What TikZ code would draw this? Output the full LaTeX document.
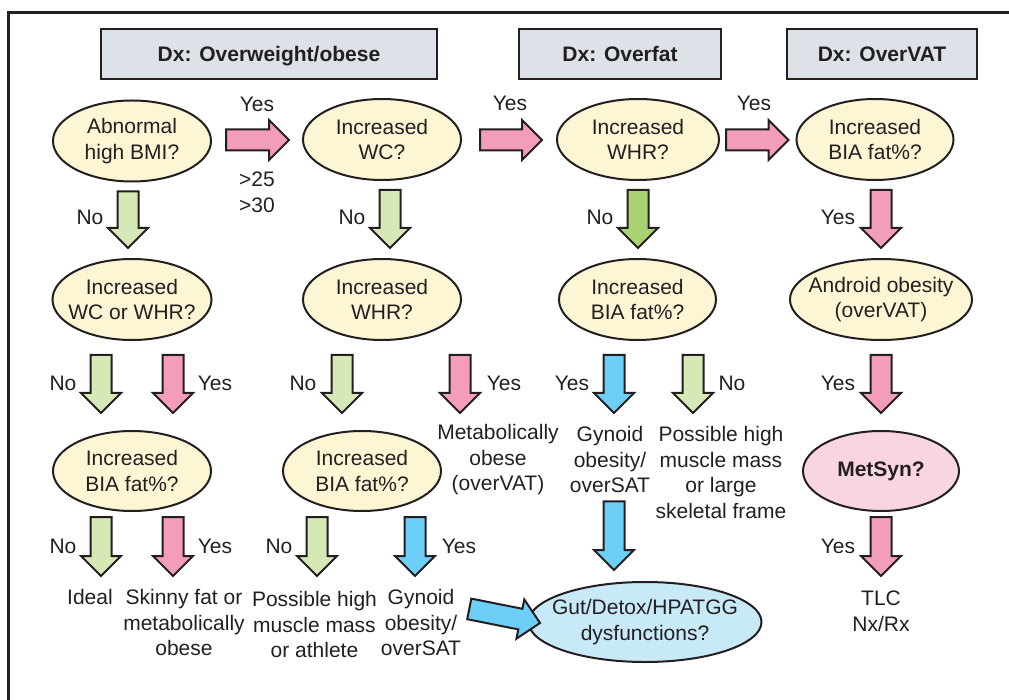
\documentclass[tikz,border=0pt]{standalone}
\usepackage{fontspec}
\setmainfont{Liberation Sans}
\usetikzlibrary{shapes.geometric,shapes.arrows,calc}
\definecolor{ink}{HTML}{231F20}
\definecolor{yel}{HTML}{FDF6D5}
\definecolor{hdrfill}{HTML}{DDE1E8}
\definecolor{lgreen}{HTML}{D5E8B6}
\definecolor{dgreen}{HTML}{AAD272}
\definecolor{pinkA}{HTML}{F49CBB}
\definecolor{blueA}{HTML}{6DCFF6}
\definecolor{pinkE}{HTML}{F9D4E1}
\definecolor{blueE}{HTML}{C7E9F8}
\newcommand{\dxfont}{\fontsize{21}{25.5}\selectfont}
\tikzset{
    every node/.style={text=ink,font=\dxfont},
    qbox/.style={ellipse,draw=ink,line width=2pt,fill=yel,inner xsep=-40pt,inner ysep=-10pt,
                 outer sep=0pt,minimum height=81,align=center},
    hdr/.style={rectangle,draw=ink,line width=2pt,fill=hdrfill,minimum height=50,
                inner sep=0pt,text height=16pt,text depth=0pt,font=\dxfont\bfseries},
    lbl/.style={anchor=base,inner sep=0pt},
    txt/.style={anchor=north,align=center,inner sep=0pt},
    bigarrow/.style={single arrow,draw=ink,line width=2pt,inner xsep=0pt,inner ysep=9.5pt,
                     single arrow head extend=9.5pt,single arrow head indent=0pt,outer sep=0pt}
}
% fat arrow: name, colour, from, to
\newcommand{\fatarrow}[4]{%
  \path let \p1=#3, \p2=#4, \n1={atan2(\y2-\y1,\x2-\x1)}, \n2={veclen(\x2-\x1,\y2-\y1)} in
    node[bigarrow,fill=#2,minimum height=\n2,rotate=\n1,anchor=tail] (#1) at (\p1) {};}

\begin{document}
\begin{tikzpicture}[x=1pt,y=-1pt]
\useasboundingbox (0,0) rectangle (1009,700);
\draw[ink,line width=2.5pt] (8.5,700) -- (8.5,12.5) -- (1009,12.5);

% Headers
\node[hdr,minimum width=336] (dx1) at (269,54) {Dx: Overweight/obese};
\node[hdr,minimum width=202] (dx2) at (620,54) {Dx: Overfat};
\node[hdr,minimum width=190] (dx3) at (882,54) {Dx: OverVAT};

% Questions
\node[qbox,minimum width=158] (bmi) at (132,141) {Abnormal\\high BMI?};
\node[qbox,minimum width=158] (wc1) at (382,139.5) {Increased\\WC?};
\node[qbox,minimum width=162] (whr1) at (638,139.5) {Increased\\WHR?};
\node[qbox,minimum width=157] (bia1) at (875,139.5) {Increased\\BIA fat\%?};

\node[qbox,minimum width=159] (wcwhr) at (132,299.5) {Increased\\WC or WHR?};
\node[qbox,minimum width=158] (whr2) at (382,299.5) {Increased\\WHR?};
\node[qbox,minimum width=157] (bia2) at (637.5,299.5) {Increased\\BIA fat\%?};
\node[qbox,minimum width=182] (android) at (881,299.5) {Android obesity\\(overVAT)};

\node[qbox,minimum width=158,minimum height=80] (bia3) at (132,471) {Increased\\BIA fat\%?};
\node[qbox,minimum width=158,minimum height=80] (bia4) at (362,471) {Increased\\BIA fat\%?};
\node[qbox,minimum width=156,minimum height=80,fill=pinkE,font=\dxfont\bfseries] (metsyn) at (881,471) {MetSyn?};
\node[qbox,minimum width=233,minimum height=80,fill=blueE] (gut) at (645,622) {Gut/Detox/HPATGG\\dysfunctions?};

% Outcomes
\node[txt] (metab) at (498,424.5) {Metabolically\\obese\\(overVAT)};
\node[txt] (gynoid2) at (610,426.5) {Gynoid\\obesity/\\overSAT};
\node[txt] (muscle2) at (721,426.5) {Possible high\\muscle mass\\or large\\skeletal frame};
\node[txt] (ideal) at (90,589.5) {Ideal};
\node[txt] (skinny) at (184,589.5) {Skinny fat or\\metabolically\\obese};
\node[txt] (muscle1) at (314.5,591.5) {Possible high\\muscle mass\\or athlete};
\node[txt] (gynoid1) at (421,589.5) {Gynoid\\obesity/\\overSAT};
\node[txt] (tlc) at (881,591) {TLC\\Nx/Rx};

% Arrows
\fatarrow{h1}{pinkA}{($(bmi.east)+(15,-1)$)}{($(wc1.west)+(-14,0.5)$)}
\fatarrow{h2}{pinkA}{($(wc1.east)+(19,0.5)$)}{($(whr1.west)+(-15,0.5)$)}
\fatarrow{h3}{pinkA}{($(whr1.east)+(7,0.5)$)}{($(bia1.west)+(-8,0.5)$)}

\fatarrow{v1}{lgreen}{($(bmi.south)+(-4,10)$)}{($(wcwhr.north)+(-4,-11)$)}
\fatarrow{v2}{lgreen}{($(wc1.south)+(8,10)$)}{($(whr2.north)+(8,-11)$)}
\fatarrow{v3}{dgreen}{($(whr1.south)+(0,10)$)}{($(bia2.north)+(0.5,-11)$)}
\fatarrow{v4}{pinkA}{($(bia1.south)+(6,10)$)}{($(android.north)+(0,-11)$)}

\fatarrow{w1}{lgreen}{($(wcwhr.south)+(-31,15)$)}{($(bia3.north)+(-31,-18)$)}
\fatarrow{w2}{pinkA}{($(wcwhr.south)+(41,15)$)}{($(bia3.north)+(41,-18)$)}
\fatarrow{w3}{lgreen}{($(whr2.south)+(-40,15)$)}{($(bia4.north)+(-20,-18)$)}
\fatarrow{w4}{pinkA}{($(whr2.south)+(78,15)$)}{($(metab.north)+(-38,-11.5)$)}
\fatarrow{w5}{blueA}{($(bia2.south)+(-23.5,15)$)}{($(gynoid2.north)+(4,-13.5)$)}
\fatarrow{w6}{lgreen}{($(bia2.south)+(55.5,15)$)}{($(muscle2.north)+(-28,-13.5)$)}
\fatarrow{w7}{pinkA}{($(android.south)+(0,15)$)}{($(metsyn.north)+(0,-18)$)}

\fatarrow{u1}{lgreen}{($(bia3.south)+(-31,6)$)}{($(ideal.north)+(11,-13.5)$)}
\fatarrow{u2}{pinkA}{($(bia3.south)+(41,6)$)}{($(skinny.north)+(-11,-13.5)$)}
\fatarrow{u3}{lgreen}{($(bia4.south)+(-45,6)$)}{($(muscle1.north)+(2.5,-15.5)$)}
\fatarrow{u4}{blueA}{($(bia4.south)+(53,6)$)}{($(gynoid1.north)+(-6,-13.5)$)}
\fatarrow{u5}{pinkA}{($(metsyn.south)+(0,6)$)}{($(tlc.north)+(0,-15)$)}

\fatarrow{g1}{blueA}{($(gynoid2.south)+(4,8)$)}{($(gut.north)+(-31,-12)$)}
\fatarrow{g2}{blueA}{($(gynoid1.east)+(8,-14)$)}{($(gut.west)+(11.5,1)$)}

% Labels
\node[lbl] (y1) at (257,112) {Yes};
\node[lbl] (y2) at (510,111) {Yes};
\node[lbl] (y3) at (754,111) {Yes};
\node[anchor=north west,align=left,inner sep=0pt] (bmicut) at (239,172) {>25\\>30};

\node[lbl] (n1) at (90,225) {No};
\node[lbl] (n2) at (352,225) {No};
\node[lbl] (n3) at (600,225) {No};
\node[lbl] (y4) at (838,225) {Yes};

\node[lbl] (n4) at (63,391) {No};
\node[lbl] (y5) at (215,391) {Yes};
\node[lbl] (n5) at (303,391) {No};
\node[lbl] (y6) at (504,391) {Yes};
\node[lbl] (y7) at (572,391) {Yes};
\node[lbl] (n6) at (732,391) {No};
\node[lbl] (y8) at (838,391) {Yes};

\node[lbl] (n7) at (63,553) {No};
\node[lbl] (y9) at (215,553) {Yes};
\node[lbl] (n8) at (279,553) {No};
\node[lbl] (y10) at (459,553) {Yes};
\node[lbl] (y11) at (838,553) {Yes};

\end{tikzpicture}
\end{document}
